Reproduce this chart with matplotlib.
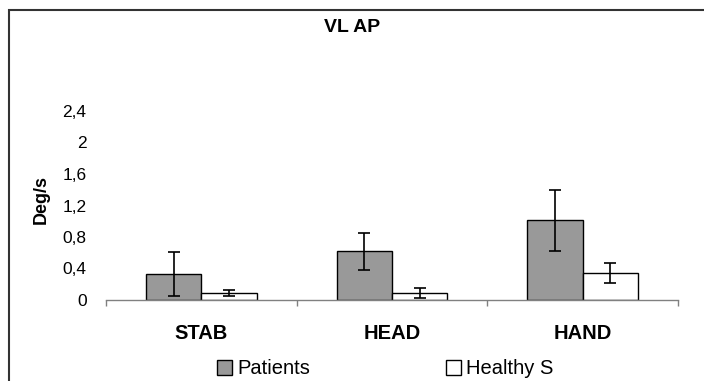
import numpy as np
import matplotlib.pyplot as plt
from matplotlib.patches import Rectangle

plt.rcParams['font.family'] = ['Liberation Sans', 'DejaVu Sans']

categories = ['STAB', 'HEAD', 'HAND']
patients = [0.33, 0.62, 1.01]
patients_err = [0.28, 0.235, 0.39]
healthy = [0.09, 0.09, 0.34]
healthy_err = [0.04, 0.065, 0.13]
yticks = [0, 0.4, 0.8, 1.2, 1.6, 2.0, 2.4]
ytick_labels = ['0', '0,4', '0,8', '1,2', '1,6', '2', '2,4']

fig = plt.figure(figsize=(7.04, 3.81), dpi=100)
ax = fig.add_axes([106/704, 1-300/381, 572/704, 189/381])

x = np.arange(len(categories))
w = 0.29
ekw = dict(ecolor='black', elinewidth=1.2, capsize=4.5, capthick=1.2)
ax.bar(x - w/2, patients, w, yerr=patients_err, color='#999999',
       edgecolor='black', linewidth=1.0, label='Patients', error_kw=ekw)
ax.bar(x + w/2, healthy, w, yerr=healthy_err, color='white',
       edgecolor='black', linewidth=1.0, label='Healthy S', error_kw=ekw)

ax.set_xlim(-0.5, len(categories) - 0.5)
ax.set_ylim(0, 2.4)
ax.set_yticks(yticks)
ax.set_yticklabels(ytick_labels, fontsize=12.5)
ax.tick_params(axis='y', length=0, pad=14)

ax.set_xticks(x)
ax.set_xticklabels(categories, fontsize=14.5, fontweight='bold')
ax.tick_params(axis='x', which='major', length=0, pad=17)
ax.set_xticks(np.arange(len(categories) + 1) - 0.5, minor=True)
ax.tick_params(axis='x', which='minor', length=4.5, color='#808080', width=1.0)

for s in ['top', 'right', 'left']:
    ax.spines[s].set_visible(False)
ax.spines['bottom'].set_color('#808080')
ax.spines['bottom'].set_linewidth(1.0)

ax.set_ylabel('Deg/s', fontsize=13, fontweight='bold')
ax.yaxis.set_label_coords(-0.098, 0.53)

fig.text(0.5, 1-28/381, 'VL AP', ha='center', va='center',
         fontsize=14, fontweight='bold')

fig.legend(loc='center', bbox_to_anchor=(385/704, 1-369/381), ncol=2,
           frameon=False, fontsize=14.5, handlelength=0.75, handleheight=0.7,
           handletextpad=0.25, columnspacing=6.75)

fig.patches.append(Rectangle((8.5/704, -0.1), 1.1, 1.1 - 9.5/381,
                             transform=fig.transFigure, fill=False,
                             edgecolor='#333333', linewidth=1.5))

fig.savefig('out.png', dpi=100)
